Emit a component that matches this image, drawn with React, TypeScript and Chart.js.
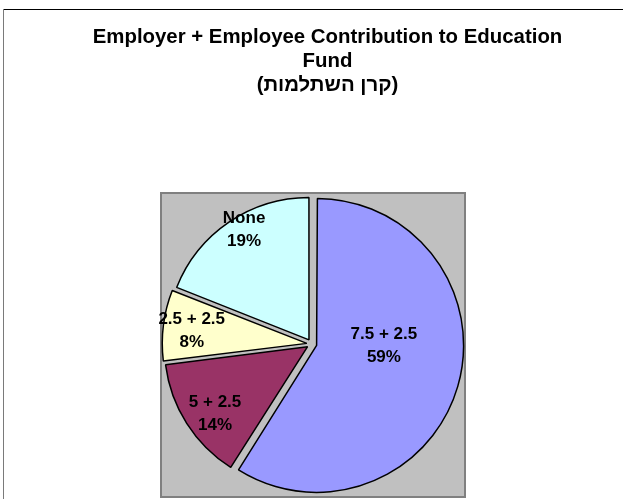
import React, { useEffect, useRef } from "react";
import { Chart, registerables } from "chart.js";

Chart.register(...registerables);

// ---- data ----
const categories = ["7.5 + 2.5", "5 + 2.5", "2.5 + 2.5", "None"];
const shares = [59, 14, 8, 19];
const sliceColors = ["#9999FF", "#993366", "#FFFFCC", "#CCFFFF"];
const titleLines = [
  "Employer + Employee Contribution to Education",
  "Fund",
  "(קרן השתלמות)",
];

// ---- label placement (fraction of radius, angle clockwise from 12 o'clock) ----
const labelPlacement = [
  { r: 0.508, deg: 91.6 },
  { r: 0.842, deg: 234 },
  { r: 0.851, deg: 276.4 },
  { r: 0.934, deg: 329.3 },
];

const FONT = "'Liberation Sans', Arial, Helvetica, sans-serif";
const W = 623;
const H = 499;

const decorPlugin = {
  id: "decor",
  beforeDraw(chart: any) {
    const ctx = chart.ctx as CanvasRenderingContext2D;
    ctx.save();
    ctx.fillStyle = "#ffffff";
    ctx.fillRect(0, 0, chart.width, chart.height);

    // outer chart frame (extends past the window)
    ctx.lineWidth = 1;
    ctx.strokeStyle = "#000000";
    ctx.beginPath();
    ctx.moveTo(3, 9.5);
    ctx.lineTo(chart.width, 9.5);
    ctx.stroke();
    ctx.strokeStyle = "#7a7a7a";
    ctx.beginPath();
    ctx.moveTo(3.5, 9);
    ctx.lineTo(3.5, chart.height);
    ctx.stroke();

    // plot area
    ctx.fillStyle = "#C0C0C0";
    ctx.fillRect(161, 193, 304, 304);
    ctx.strokeStyle = "#808080";
    ctx.lineWidth = 2;
    ctx.strokeRect(161, 193, 304, 304);

    // title
    ctx.fillStyle = "#000000";
    ctx.font = `bold 20.4px ${FONT}`;
    ctx.textAlign = "center";
    ctx.textBaseline = "alphabetic";
    const baselines = [42.6, 66.6, 90.6];
    titleLines.forEach((t, i) => ctx.fillText(t, 327.5, baselines[i]));
    ctx.restore();
  },
  afterDatasetsDraw(chart: any) {
    const ctx = chart.ctx as CanvasRenderingContext2D;
    const meta = chart.getDatasetMeta(0);
    const total = shares.reduce((a, b) => a + b, 0);
    ctx.save();
    ctx.fillStyle = "#000000";
    ctx.font = `bold 17px ${FONT}`;
    ctx.textAlign = "center";
    ctx.textBaseline = "middle";
    meta.data.forEach((arc: any, i: number) => {
      const { x, y, outerRadius } = arc.getProps(["x", "y", "outerRadius"], true);
      const p = labelPlacement[i];
      const a = (p.deg * Math.PI) / 180;
      const lx = x + p.r * outerRadius * Math.sin(a);
      const ly = y - p.r * outerRadius * Math.cos(a);
      const pct = Math.round((shares[i] / total) * 100) + "%";
      ctx.fillText(categories[i], lx, ly - 11.5);
      ctx.fillText(pct, lx, ly + 11.5);
    });
    ctx.restore();
  },
};

export default function App() {
  const ref = useRef<HTMLCanvasElement | null>(null);

  useEffect(() => {
    if (!ref.current) return;
    document.body.style.background = "#ffffff";
    const chart = new Chart(ref.current, {
      type: "pie",
      data: {
        labels: categories,
        datasets: [
          {
            data: shares,
            backgroundColor: sliceColors,
            borderColor: "#000000",
            borderWidth: 1.5,
            offset: 20,
          },
        ],
      },
      options: {
        responsive: false,
        animation: false,
        events: [],
        radius: 142,
        layout: {
          padding: { left: 161.8, right: 161.2, top: 194, bottom: 5 },
        },
        plugins: {
          legend: { display: false },
          title: { display: false },
          tooltip: { enabled: false },
        },
      } as any,
      plugins: [decorPlugin],
    });
    return () => chart.destroy();
  }, []);

  return (
    <canvas
      ref={ref}
      width={W}
      height={H}
      style={{ position: "fixed", left: 0, top: 0, width: W, height: H }}
    />
  );
}
